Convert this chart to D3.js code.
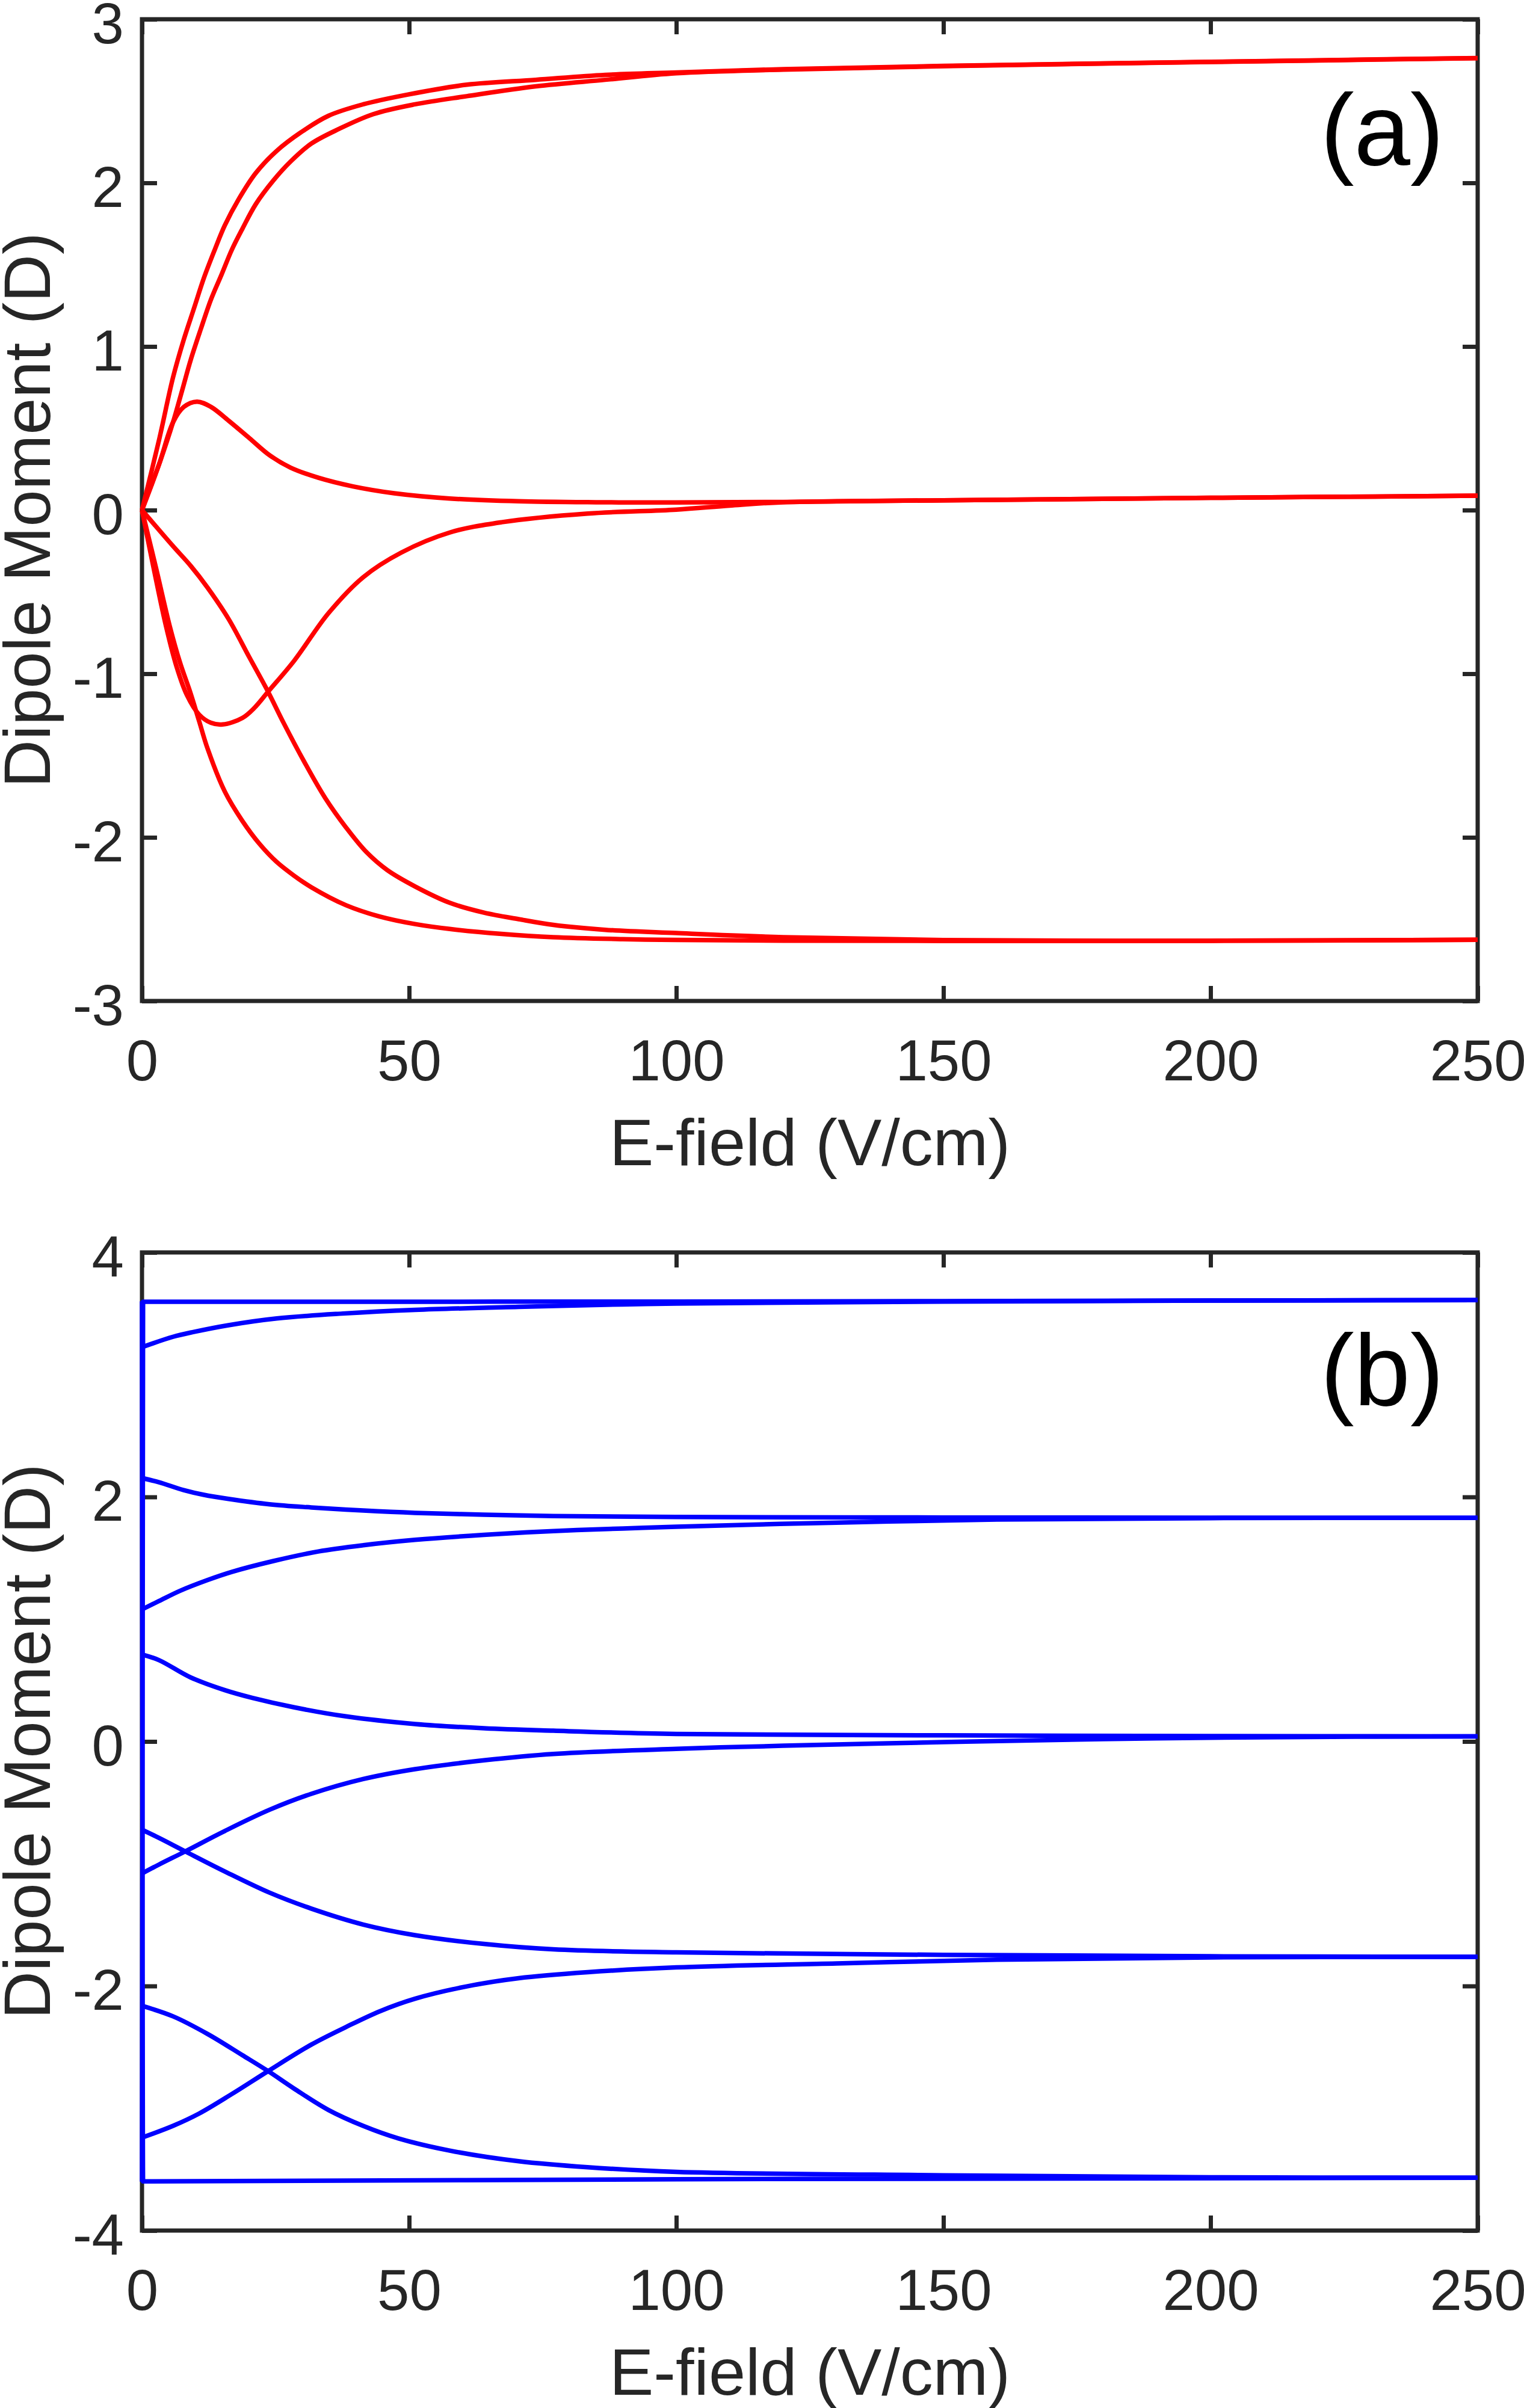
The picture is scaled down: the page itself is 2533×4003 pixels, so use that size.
<!DOCTYPE html>
<html lang="en">
<head>
    <meta charset="UTF-8">
    <title>Dipole Moment vs E-field</title>
    <script src="https://cdn.jsdelivr.net/npm/d3@7"></script>
    <style>
        body { margin: 0; background: #fff; }
        text { font-family: "Liberation Sans", Arial, Helvetica, sans-serif; }
    </style>
</head>
<body>
    <div id="chart"></div>

    <script>
        // E-field ticks shared by both panels
        var fieldTicks = [0, 50, 100, 150, 200, 250];
        var dipoleTicksA = [-3, -2, -1, 0, 1, 2, 3];
        var dipoleTicksB = [-4, -2, 0, 2, 4];

        // panel (a) curves, [E-field, dipole]
        var redA = [[0,0],[3.2,0.43],[5.8,0.81],[7.8,1.04],[9.7,1.23],[11.6,1.42],[13.6,1.59],[15.5,1.74],[18.1,1.90],[21.3,2.06],[25.2,2.195],[29.8,2.31],[34.9,2.41],[41.4,2.48],[49.8,2.54],[60.8,2.60],[73.7,2.63],[86.7,2.66],[100,2.675],[120,2.695],[150,2.715],[200,2.74],[250,2.763]];
        var redB = [[0,0],[3.2,0.28],[5.8,0.536],[7.5,0.73],[9.1,0.916],[11.0,1.106],[12.9,1.286],[14.9,1.44],[16.8,1.59],[18.8,1.72],[21.3,1.87],[24.6,2.015],[27.8,2.13],[31.7,2.24],[36.9,2.33],[43.3,2.42],[51.1,2.48],[60.8,2.53],[73.7,2.59],[86.7,2.63],[100,2.67],[120,2.692],[150,2.713],[200,2.739],[250,2.762]];
        var redC = [[0,0],[3.2,0.28],[5.8,0.536],[7.8,0.63],[10.3,0.663],[12.9,0.631],[16.2,0.547],[20.1,0.44],[23.9,0.335],[27.8,0.26],[33,0.198],[39.5,0.145],[47.2,0.103],[57.6,0.071],[70.5,0.054],[85,0.048],[100,0.047],[120,0.05],[150,0.06],[200,0.075],[250,0.088]];
        var redD = [[0,0],[1.9,-0.31],[4.5,-0.71],[6.5,-0.96],[8.4,-1.13],[10.7,-1.25],[12.9,-1.30],[15.1,-1.31],[18.8,-1.27],[21,-1.21],[23.6,-1.11],[28.5,-0.92],[34.9,-0.63],[41.4,-0.41],[48.5,-0.26],[57.6,-0.137],[67.3,-0.074],[83.4,-0.021],[100,0.003],[110,0.028],[120,0.048],[150,0.06],[200,0.075],[250,0.088]];
        var redE = [[0,0],[5.8,-0.22],[9.1,-0.34],[12.3,-0.475],[16.2,-0.665],[20.1,-0.90],[23.6,-1.11],[26.5,-1.30],[30.4,-1.54],[34.3,-1.76],[38.2,-1.94],[42,-2.09],[45.9,-2.20],[51.1,-2.30],[57.6,-2.40],[64,-2.46],[70.5,-2.50],[77,-2.535],[86.7,-2.565],[100,-2.585],[120,-2.61],[150,-2.628],[200,-2.632],[250,-2.626]];
        var redF = [[0,0],[2.6,-0.35],[5.2,-0.71],[7.1,-0.93],[9.1,-1.12],[10.7,-1.29],[12.3,-1.46],[15.5,-1.72],[18.8,-1.90],[22,-2.04],[25.2,-2.15],[28.5,-2.235],[31.7,-2.305],[38.2,-2.415],[44.6,-2.485],[51.1,-2.53],[57.6,-2.56],[67.3,-2.59],[77,-2.61],[90,-2.622],[100,-2.627],[120,-2.631],[150,-2.633],[200,-2.632],[250,-2.626]];

        // panel (b) curves, [E-field, dipole]
        var blue1 = [[0,-3.6],[0.2,3.596],[50,3.597],[100,3.598],[150,3.602],[200,3.606],[250,3.61]];
        var blue2 = [[0,3.225],[5.8,3.31],[9.7,3.35],[16.2,3.405],[25.2,3.46],[37.5,3.50],[51.1,3.53],[70.5,3.555],[90,3.575],[100,3.582],[150,3.598],[200,3.606],[250,3.61]];
        var blue3 = [[0,2.155],[3.2,2.12],[7.8,2.056],[11.6,2.017],[16.2,1.984],[23.9,1.94],[31.7,1.914],[41.4,1.889],[51.1,1.87],[64,1.855],[77,1.844],[100,1.836],[150,1.832],[200,1.83],[250,1.829]];
        var blue4 = [[0,1.08],[3.2,1.149],[7.1,1.232],[12.3,1.321],[16.8,1.387],[24.6,1.476],[33,1.554],[41.4,1.605],[51.1,1.649],[64,1.69],[77,1.721],[90,1.742],[100,1.757],[130,1.79],[160,1.815],[200,1.827],[250,1.829]];
        var blue5 = [[0,0.712],[3.2,0.665],[9.1,0.524],[15.5,0.42],[20.7,0.356],[28.5,0.279],[38.2,0.205],[51.1,0.143],[64,0.108],[77,0.088],[100,0.062],[150,0.05],[200,0.044],[250,0.042]];
        var blue6 = [[0,-1.08],[3.2,-1.006],[8.1,-0.899],[15.5,-0.732],[23.9,-0.558],[31.7,-0.428],[41.4,-0.307],[51.1,-0.226],[64,-0.154],[77,-0.102],[100,-0.06],[120,-0.035],[150,-0.005],[180,0.02],[210,0.035],[250,0.042]];
        var blue7 = [[0,-0.722],[3.2,-0.789],[8.1,-0.899],[15.5,-1.063],[23.9,-1.237],[31.7,-1.367],[41.4,-1.497],[51.1,-1.584],[64,-1.656],[77,-1.70],[100,-1.725],[150,-1.745],[200,-1.757],[250,-1.761]];
        var blue8 = [[0,-3.24],[5.8,-3.144],[10.7,-3.043],[16.8,-2.884],[23.6,-2.696],[31.7,-2.479],[38.2,-2.335],[44.6,-2.205],[51.1,-2.104],[60.8,-2.003],[70.5,-1.936],[83.4,-1.887],[100,-1.848],[130,-1.815],[160,-1.785],[200,-1.766],[250,-1.761]];
        var blue9 = [[0,-2.162],[5.8,-2.248],[12.3,-2.393],[18.8,-2.566],[23.6,-2.696],[28.5,-2.84],[34.9,-3.014],[41.4,-3.144],[47.9,-3.245],[57.6,-3.346],[70.5,-3.433],[83.4,-3.482],[100,-3.52],[150,-3.548],[200,-3.564],[250,-3.568]];
        var blue10 = [[0,3.6],[0.2,-3.598],[100,-3.58],[250,-3.568]];

        var width = 2533;
        var height = 4003;
        var axisColor = "#262626";

        var svg = d3.select("#chart")
            .append("svg")
            .attr("width", width)
            .attr("height", height);

        var xScale = d3.scaleLinear()
            .domain([0, 250])
            .range([236, 2456]);

        function drawPanel(p) {
            var g = svg.append("g");

            var yScale = d3.scaleLinear()
                .domain(p.yDomain)
                .range([p.bottom, p.top]);

            // box
            g.append("rect")
                .attr("x", xScale(0))
                .attr("y", p.top)
                .attr("width", xScale(250) - xScale(0))
                .attr("height", p.bottom - p.top)
                .attr("fill", "none")
                .attr("stroke", axisColor)
                .attr("stroke-width", 7);

            var bottomAxis = g.append("g")
                .attr("transform", "translate(0," + p.bottom + ")")
                .call(d3.axisBottom(xScale).tickValues(fieldTicks).tickSize(-25).tickSizeOuter(0)
                    .tickPadding(64).tickFormat(function(d) { return String(d); }));

            var topAxis = g.append("g")
                .attr("transform", "translate(0," + p.top + ")")
                .call(d3.axisTop(xScale).tickValues(fieldTicks).tickSize(-25).tickSizeOuter(0).tickFormat(""));

            var leftAxis = g.append("g")
                .attr("transform", "translate(" + xScale(0) + ",0)")
                .call(d3.axisLeft(yScale).tickValues(p.yTicks).tickSize(-25).tickSizeOuter(0)
                    .tickPadding(30).tickFormat(function(d) { return String(d); }));

            var rightAxis = g.append("g")
                .attr("transform", "translate(" + xScale(250) + ",0)")
                .call(d3.axisRight(yScale).tickValues(p.yTicks).tickSize(-25).tickSizeOuter(0).tickFormat(""));

            [bottomAxis, topAxis, leftAxis, rightAxis].forEach(function(a) {
                a.select(".domain").remove();
                a.selectAll(".tick line")
                    .attr("stroke", axisColor)
                    .attr("stroke-width", 7);
                a.selectAll(".tick text")
                    .attr("fill", axisColor)
                    .style("font-size", "96px")
                    .style("font-family", "'Liberation Sans', Arial, Helvetica, sans-serif");
            });
            leftAxis.selectAll(".tick text").attr("dy", "0.41em");
            bottomAxis.selectAll(".tick text").attr("dy", "0.71em");

            var smooth = d3.line()
                .x(function(d) { return xScale(d[0]); })
                .y(function(d) { return yScale(d[1]); })
                .curve(d3.curveCatmullRom.alpha(0.5));

            // the two curves with a jump at zero field keep a monotone curve
            var monotone = d3.line()
                .x(function(d) { return xScale(d[0]); })
                .y(function(d) { return yScale(d[1]); })
                .curve(d3.curveMonotoneX);

            g.selectAll(".curve")
                .data(p.series)
                .join("path")
                .attr("class", "curve")
                .attr("d", function(d) {
                    return Math.abs(d[1][1] - d[0][1]) > 3 ? monotone(d) : smooth(d);
                })
                .attr("fill", "none")
                .attr("stroke", p.color)
                .attr("stroke-width", 7.5)
                .attr("stroke-linejoin", "round");

            g.append("text")
                .attr("x", (xScale(0) + xScale(250)) / 2)
                .attr("y", p.bottom + 273)
                .attr("text-anchor", "middle")
                .attr("fill", axisColor)
                .style("font-size", "110px")
                .text("E-field (V/cm)");

            g.append("text")
                .attr("transform", "translate(83," + ((p.top + p.bottom) / 2) + ") rotate(-90)")
                .attr("text-anchor", "middle")
                .attr("fill", axisColor)
                .style("font-size", "110px")
                .text("Dipole Moment (D)");

            g.append("text")
                .attr("x", 2400)
                .attr("y", p.labelY)
                .attr("text-anchor", "end")
                .attr("fill", "#000")
                .style("font-size", "168px")
                .text(p.label);
        }

        drawPanel({
            top: 32, bottom: 1664,
            yDomain: [-3, 3], yTicks: dipoleTicksA,
            series: [redA, redB, redC, redD, redE, redF],
            color: "#ff0000",
            label: "(a)", labelY: 274
        });

        drawPanel({
            top: 2082, bottom: 3708,
            yDomain: [-4, 4], yTicks: dipoleTicksB,
            series: [blue1, blue2, blue3, blue4, blue5, blue6, blue7, blue8, blue9, blue10],
            color: "#0000ff",
            label: "(b)", labelY: 2336
        });
    </script>
</body>
</html>
